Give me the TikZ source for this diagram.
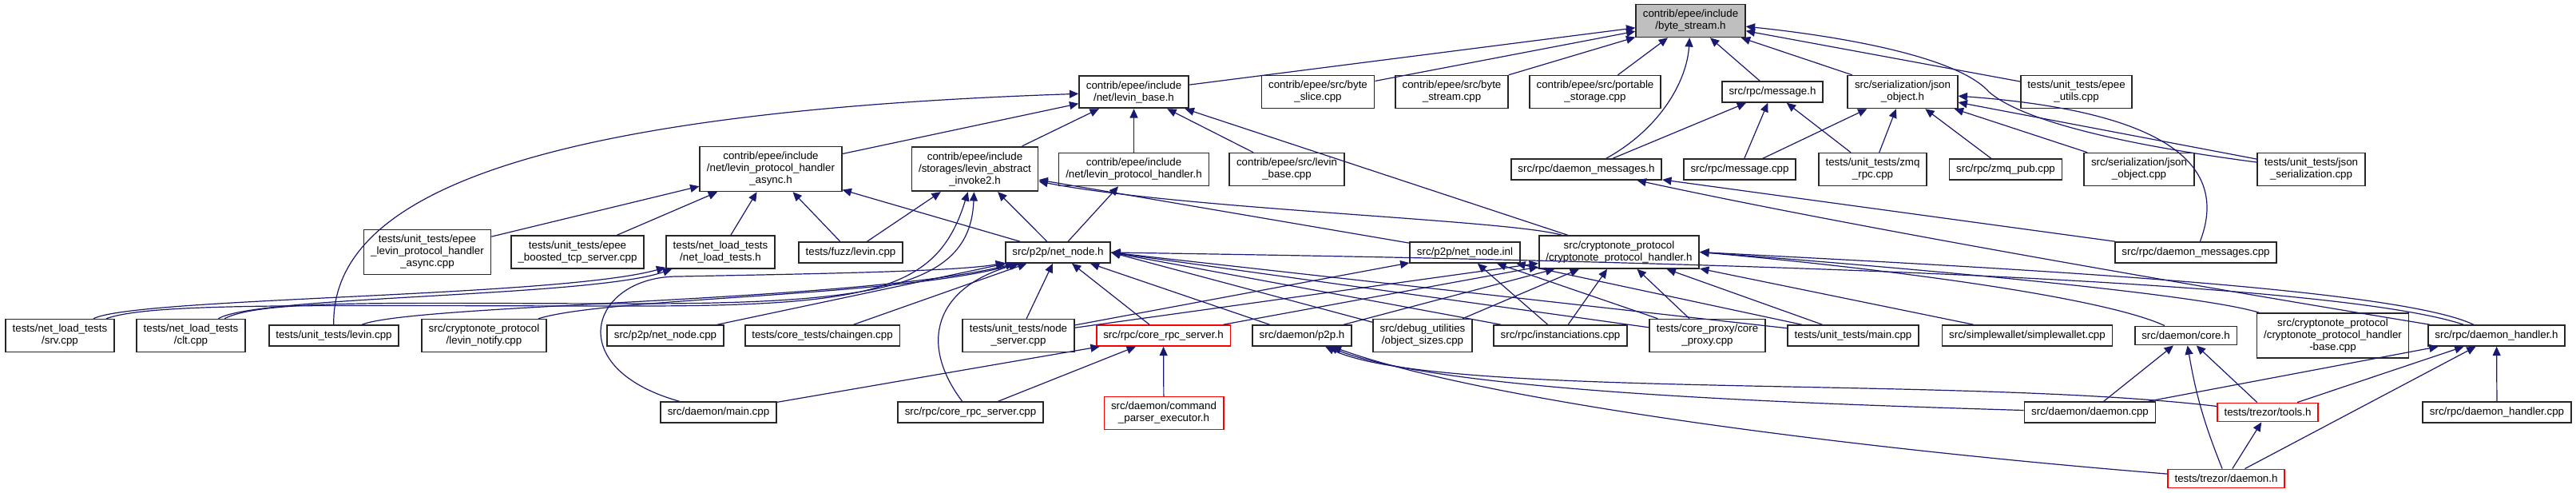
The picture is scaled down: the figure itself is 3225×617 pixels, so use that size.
\documentclass[tikz,border=0pt]{standalone}
\usepackage{fontspec}
\setmainfont{Liberation Sans}
\usepackage{tikz}
\usepackage{xcolor}
\usetikzlibrary{arrows.meta}
\definecolor{edgeblue}{HTML}{191970}

\begin{document}
\begin{tikzpicture}[x=0.75pt,y=-0.75pt]
    % Styles for boxes and lines
    \tikzset{
      box/.style={rectangle, draw=black!85, line width=1.3pt, fill=white, align=center, inner xsep=6.5pt, inner ysep=5pt, font=\fontsize{10pt}{11.25pt}\selectfont},
      redbox/.style={box, draw=red},
      graybox/.style={box, fill=black!25},
      arrow/.style={edgeblue, line width=0.9pt, -{Triangle[length=8.5pt,width=7.5pt]}}
    }
    \useasboundingbox (0,0) rectangle (3225,617);

    % Nodes with explicit coordinates
    \node[graybox] (BS) at (2116.5,26) {contrib/epee/include\\/byte\_stream.h};

    \node[box] (LB) at (1419.5,115) {contrib/epee/include\\/net/levin\_base.h};
    \node[box] (BSL) at (1650,115) {contrib/epee/src/byte\\\_slice.cpp};
    \node[box] (BSC) at (1817.5,115) {contrib/epee/src/byte\\\_stream.cpp};
    \node[box] (PS) at (1997,115) {contrib/epee/src/portable\\\_storage.cpp};
    \node[box] (MH) at (2219,115) {src/rpc/message.h};
    \node[box] (JOH) at (2382,115) {src/serialization/json\\\_object.h};
    \node[box] (EU) at (2599.5,115) {tests/unit\_tests/epee\\\_utils.cpp};

    \node[box] (LPA) at (965,211.5) {contrib/epee/include\\/net/levin\_protocol\_handler\\\_async.h};
    \node[box] (LAI) at (1220.5,211.5) {contrib/epee/include\\/storages/levin\_abstract\\\_invoke2.h};
    \node[box] (LPH) at (1419.5,212) {contrib/epee/include\\/net/levin\_protocol\_handler.h};
    \node[box] (LBC) at (1611,212) {contrib/epee/src/levin\\\_base.cpp};
    \node[box] (DMH) at (1986,212) {src/rpc/daemon\_messages.h};
    \node[box] (MC) at (2178,212) {src/rpc/message.cpp};
    \node[box] (ZR) at (2344.5,212) {tests/unit\_tests/zmq\\\_rpc.cpp};
    \node[box] (ZP) at (2511,212) {src/rpc/zmq\_pub.cpp};
    \node[box] (JOC) at (2678,212) {src/serialization/json\\\_object.cpp};
    \node[box] (JS) at (2893.5,212) {tests/unit\_tests/json\\\_serialization.cpp};

    \node[box] (ELA) at (535,315.5) {tests/unit\_tests/epee\\\_levin\_protocol\_handler\\\_async.cpp};
    \node[box] (EBT) at (723,315.5) {tests/unit\_tests/epee\\\_boosted\_tcp\_server.cpp};
    \node[box] (NLT) at (902,315.5) {tests/net\_load\_tests\\/net\_load\_tests.h};
    \node[box] (FZL) at (1065,316) {tests/fuzz/levin.cpp};
    \node[box] (NN) at (1324.5,316) {src/p2p/net\_node.h};
    \node[box] (NNI) at (1834,316) {src/p2p/net\_node.inl};
    \node[box] (CPH) at (2027,315.5) {src/cryptonote\_protocol\\/cryptonote\_protocol\_handler.h};
    \node[box] (DMC) at (2749,316) {src/rpc/daemon\_messages.cpp};

    \node[box] (SRV) at (75,420) {tests/net\_load\_tests\\/srv.cpp};
    \node[box] (CLT) at (239,420) {tests/net\_load\_tests\\/clt.cpp};
    \node[box] (ULV) at (418,420) {tests/unit\_tests/levin.cpp};
    \node[box] (LN) at (606,420) {src/cryptonote\_protocol\\/levin\_notify.cpp};
    \node[box] (NNC) at (833,420) {src/p2p/net\_node.cpp};
    \node[box] (CG) at (1029.5,420) {tests/core\_tests/chaingen.cpp};
    \node[box] (NS) at (1275,420) {tests/unit\_tests/node\\\_server.cpp};
    \node[redbox] (CRH) at (1456.5,420) {src/rpc/core\_rpc\_server.h};
    \node[box] (P2P) at (1630,420) {src/daemon/p2p.h};
    \node[box] (OS) at (1781,420) {src/debug\_utilities\\/object\_sizes.cpp};
    \node[box] (INS) at (1953.5,420) {src/rpc/instanciations.cpp};
    \node[box] (CP) at (2137.5,420) {tests/core\_proxy/core\\\_proxy.cpp};
    \node[box] (UM) at (2320,420) {tests/unit\_tests/main.cpp};
    \node[box] (SW) at (2538,420) {src/simplewallet/simplewallet.cpp};
    \node[box] (CORE) at (2736.5,420) {src/daemon/core.h};
    \node[box] (CPHB) at (2920.5,420) {src/cryptonote\_protocol\\/cryptonote\_protocol\_handler\\-base.cpp};
    \node[box] (DH) at (3125.5,420) {src/rpc/daemon\_handler.h};

    \node[box] (DM) at (899.5,516) {src/daemon/main.cpp};
    \node[box] (CRC) at (1215,516) {src/rpc/core\_rpc\_server.cpp};
    \node[redbox] (CPE) at (1457,517) {src/daemon/command\\\_parser\_executor.h};
    \node[box] (DD) at (2616.5,516) {src/daemon/daemon.cpp};
    \node[redbox] (TT) at (2839,516) {tests/trezor/tools.h};
    \node[box] (DHC) at (3126,516) {src/rpc/daemon\_handler.cpp};
    \node[redbox] (TD) at (2787,599) {tests/trezor/daemon.h};

    % Arrows into byte_stream.h
    \draw[arrow] (LB) -- (BS);
    \draw[arrow] (BSL) -- (BS);
    \draw[arrow] (BSC) -- (BS);
    \draw[arrow] (PS) -- (BS);
    \draw[arrow] (DMH) .. controls (2080,160) and (2112,100) .. (BS);
    \draw[arrow] (MH) -- (BS);
    \draw[arrow] (JOH) -- (BS);
    \draw[arrow] (EU) -- (BS);
    \draw[arrow] (JS) .. controls (2650,180) and (2530,150) .. (2490,115) .. controls (2450,70) and (2300,45) .. (BS);

    % Arrows into levin_base.h
    \draw[arrow] (ULV) .. controls (415,240) and (680,140) .. (LB);
    \draw[arrow] (LPA) -- (LB);
    \draw[arrow] (LAI) -- (LB);
    \draw[arrow] (LPH) -- (LB);
    \draw[arrow] (LBC) -- (LB);
    \draw[arrow] (CPH) -- (LB);

    % Arrows into levin_protocol_handler_async.h
    \draw[arrow] (ELA) -- (LPA);
    \draw[arrow] (EBT) -- (LPA);
    \draw[arrow] (NLT) -- (LPA);
    \draw[arrow] (FZL) -- (LPA);
    \draw[arrow] (NN) -- (LPA);

    % Arrows into levin_abstract_invoke2.h
    \draw[arrow] (FZL) -- (LAI);
    \draw[arrow] (SRV) .. controls (190,378) and (400,383) .. (800,383) .. controls (1100,383) and (1175,360) .. (LAI);
    \draw[arrow] (CLT) .. controls (330,374) and (500,380) .. (800,380) .. controls (1110,380) and (1215,355) .. (LAI);
    \draw[arrow] (NN) -- (LAI);
    \draw[arrow] (NNI) -- (LAI);
    \draw[arrow] (CPH) .. controls (1890,275) and (1480,262) .. (LAI);

    \draw[arrow] (NN) -- (LPH);

    % Arrows into message.h and json_object.h
    \draw[arrow] (DMH) -- (MH);
    \draw[arrow] (MC) -- (MH);
    \draw[arrow] (ZR) -- (MH);
    \draw[arrow] (MC) -- (JOH);
    \draw[arrow] (ZR) -- (JOH);
    \draw[arrow] (ZP) -- (JOH);
    \draw[arrow] (JOC) -- (JOH);
    \draw[arrow] (JS) -- (JOH);
    \draw[arrow] (DMC) .. controls (2790,210) and (2720,140) .. (JOH);

    % Arrows into daemon_messages.h
    \draw[arrow] (DMC) -- (DMH);
    \draw[arrow] (DH) .. controls (2700,350) and (2300,280) .. (DMH);

    % Arrows into net_load_tests.h
    \draw[arrow] (SRV) .. controls (170,372) and (700,372) .. (NLT);
    \draw[arrow] (CLT) .. controls (320,370) and (740,372) .. (NLT);

    % Arrows into net_node.h
    \draw[arrow] (ULV) .. controls (520,380) and (1080,378) .. (NN);
    \draw[arrow] (LN) .. controls (760,372) and (1120,372) .. (NN);
    \draw[arrow] (NNC) -- (NN);
    \draw[arrow] (CG) -- (NN);
    \draw[arrow] (NS) -- (NN);
    \draw[arrow] (CRH) -- (NN);
    \draw[arrow] (P2P) -- (NN);
    \draw[arrow] (CRC) .. controls (1150,430) and (1170,360) .. (NN);
    \draw[arrow] (DM) .. controls (700,460) and (740,345) .. (850,346) .. controls (1000,343) and (1200,340) .. (NN);
    \draw[arrow] (OS) -- (NN.east);
    \draw[arrow] (INS) -- (NN.east);
    \draw[arrow] (CP) -- (NN.east);
    \draw[arrow] (UM) -- (NN.east);
    \draw[arrow] (DH) .. controls (2900,345) and (2000,325) .. (NN.east);

    % Arrows into net_node.inl
    \draw[arrow] (NS) -- (NNI);
    \draw[arrow] (INS) -- (NNI);
    \draw[arrow] (CP) -- (NNI);
    \draw[arrow] (UM) -- (NNI);

    % Arrows into cryptonote_protocol_handler.h
    \draw[arrow] (NS) -- (CPH);
    \draw[arrow] (CRH) -- (CPH);
    \draw[arrow] (P2P) -- (CPH);
    \draw[arrow] (OS) -- (CPH);
    \draw[arrow] (INS) -- (CPH);
    \draw[arrow] (CP) -- (CPH);
    \draw[arrow] (UM) -- (CPH);
    \draw[arrow] (SW) -- (CPH);
    \draw[arrow] (CORE) .. controls (2640,375) and (2400,340) .. (CPH.east);
    \draw[arrow] (CPHB) .. controls (2760,370) and (2450,340) .. (CPH.east);
    \draw[arrow] (DH) .. controls (3000,360) and (2500,335) .. (CPH.east);

    % Arrows into core_rpc_server.h
    \draw[arrow] (DM) -- (CRH);
    \draw[arrow] (CRC) -- (CRH);
    \draw[arrow] (CPE) -- (CRH);

    % Arrows into p2p.h, core.h, daemon_handler.h and tools.h
    \draw[arrow] (DD) .. controls (2250,505) and (1800,490) .. (P2P);
    \draw[arrow] (TT) .. controls (2450,470) and (1800,500) .. (P2P);
    \draw[arrow] (TD) .. controls (2300,560) and (1850,500) .. (P2P);
    \draw[arrow] (DD) -- (CORE);
    \draw[arrow] (TT) -- (CORE);
    \draw[arrow] (TD) to[bend left=6] (CORE);
    \draw[arrow] (DD) -- (DH);
    \draw[arrow] (TT) -- (DH);
    \draw[arrow] (TD) -- (DH);
    \draw[arrow] (DHC) -- (DH);
    \draw[arrow] (TD) -- (TT);

\end{tikzpicture}
\end{document}
